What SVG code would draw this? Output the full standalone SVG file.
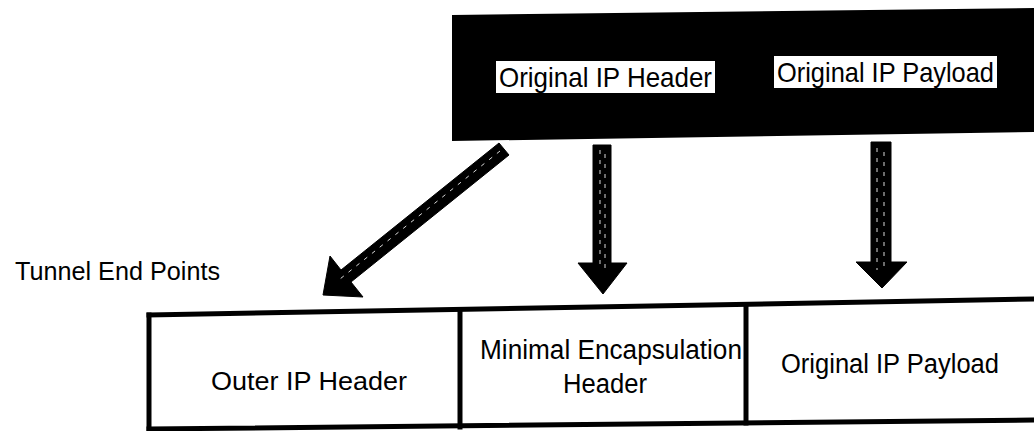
<svg xmlns="http://www.w3.org/2000/svg" width="1034" height="431" viewBox="0 0 1034 431">
  <style>
    .lbl { font-family: "Liberation Sans", Arial, sans-serif; fill: #000; }
    .edge { stroke: #000; stroke-width: 5; fill: none; stroke-linecap: square; }
    .arrow { fill: #000; stroke: #000; stroke-width: 1; stroke-linejoin: miter; }
    .hatch { stroke: #fff; stroke-width: 1; stroke-dasharray: 4 6; fill: none; opacity: 0.85; }
  </style>

  <rect x="0" y="0" width="1034" height="431" fill="#fff"/>

  <!-- Original datagram: black band with two white field labels -->
  <g id="original-datagram">
    <polygon points="452,15 1034,8 1034,132 452,141" fill="#000"/>
    <g id="orig-ip-header">
      <rect x="496" y="61" width="219" height="32" fill="#fff"/>
      <text class="lbl" x="499" y="87" font-size="28" textLength="213" lengthAdjust="spacingAndGlyphs">Original IP Header</text>
    </g>
    <g id="orig-ip-payload">
      <rect x="774" y="56" width="223" height="32" fill="#fff"/>
      <text class="lbl" x="777" y="82" font-size="28" textLength="217" lengthAdjust="spacingAndGlyphs">Original IP Payload</text>
    </g>
  </g>

  <!-- Side caption -->
  <g id="tunnel-end-points">
    <text class="lbl" x="15" y="280" font-size="25" textLength="205" lengthAdjust="spacingAndGlyphs">Tunnel End Points</text>
  </g>

  <!-- Encapsulated datagram -->
  <g id="encapsulated-datagram">
    <line class="edge" x1="149" y1="315" x2="1034" y2="299"/>
    <line class="edge" x1="149" y1="429" x2="1034" y2="420"/>
    <line class="edge" x1="149" y1="315" x2="149" y2="431"/>
    <g id="outer-ip-header">
      <text class="lbl" x="211" y="390" font-size="26" textLength="196" lengthAdjust="spacingAndGlyphs">Outer IP Header</text>
    </g>
    <g id="min-encap-header">
      <line class="edge" x1="460" y1="310" x2="460" y2="427"/>
      <text class="lbl" x="480" y="359" font-size="27" textLength="262" lengthAdjust="spacingAndGlyphs">Minimal Encapsulation</text>
      <text class="lbl" x="563" y="393" font-size="27" textLength="84" lengthAdjust="spacingAndGlyphs">Header</text>
    </g>
    <g id="new-ip-payload">
      <line class="edge" x1="746" y1="305" x2="746" y2="423"/>
      <text class="lbl" x="781" y="373" font-size="27" textLength="218" lengthAdjust="spacingAndGlyphs">Original IP Payload</text>
    </g>
  </g>

  <!-- Block arrows mapping fields -->
  <g id="connectors">
    <g id="arrow-header-to-outer">
      <polygon class="arrow" points="499,143 509,155 351,282 363,297 323,295 330,256 341,270"/>
      <line class="hatch" x1="500" y1="151" x2="340" y2="279"/>
    </g>
    <g id="arrow-header-to-encap">
      <polygon class="arrow" points="593,145 611,145 611,263 627,263 603,294 578,263 593,263"/>
      <line class="hatch" x1="600" y1="150" x2="600" y2="270"/>
      <line class="hatch" x1="605" y1="154" x2="605" y2="268"/>
    </g>
    <g id="arrow-payload-to-payload">
      <polygon class="arrow" points="871,142 891,142 891,262 907,262 882,288 856,262 871,262"/>
      <line class="hatch" x1="877" y1="148" x2="877" y2="270"/>
      <line class="hatch" x1="884" y1="152" x2="884" y2="266"/>
    </g>
  </g>
</svg>
